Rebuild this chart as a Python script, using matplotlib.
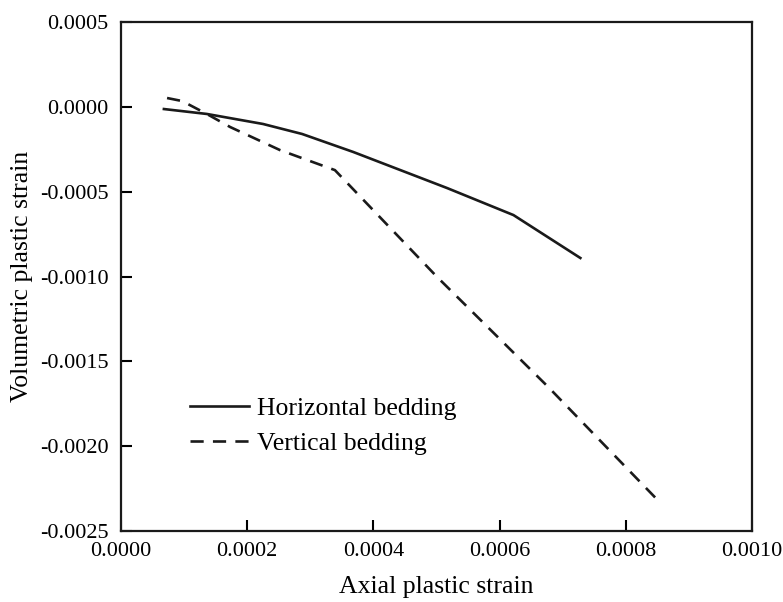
import matplotlib
matplotlib.use('Agg')
import matplotlib.pyplot as plt
from matplotlib.ticker import FormatStrFormatter, MultipleLocator

# values (units: strain)
horiz_x = [0.68e-4, 1.36e-4, 2.25e-4, 2.87e-4, 3.68e-4, 5.17e-4, 6.22e-4, 7.28e-4]
horiz_y = [-0.13e-4, -0.42e-4, -1.01e-4, -1.60e-4, -2.66e-4, -4.79e-4, -6.38e-4, -8.91e-4]

vert_x = [0.73e-4, 0.97e-4, 1.36e-4, 1.73e-4, 2.52e-4, 3.39e-4, 5.01e-4, 6.77e-4, 8.55e-4]
vert_y = [0.52e-4, 0.34e-4, -0.42e-4, -1.19e-4, -2.55e-4, -3.73e-4, -10.03e-4, -16.51e-4, -23.35e-4]

plt.rcParams.update({
    'font.family': 'serif',
    'font.serif': ['Liberation Serif', 'DejaVu Serif'],
    'axes.unicode_minus': False,
})

fig = plt.figure(figsize=(7.83, 6.02), dpi=100)
ax = fig.add_axes([121/783, 1 - 531/602, 631/783, 509/602])

ax.plot(horiz_x, horiz_y, '-', color='#1a1a1a', linewidth=1.9, label='Horizontal bedding')
ax.plot(vert_x, vert_y, color='#1a1a1a', linewidth=1.9, linestyle=(0, (5, 3.5)), label='Vertical bedding')

ax.set_xlim(0, 0.001)
ax.set_ylim(-0.0025, 0.0005)
ax.xaxis.set_major_locator(MultipleLocator(0.0002))
ax.yaxis.set_major_locator(MultipleLocator(0.0005))
ax.xaxis.set_major_formatter(FormatStrFormatter('%.4f'))
ax.yaxis.set_major_formatter(FormatStrFormatter('%.4f'))

ax.tick_params(direction='in', length=8, width=1.5, labelsize=16, top=False, right=False)
ax.tick_params(axis='y', pad=9)
ax.tick_params(axis='x', pad=8)
for spine in ax.spines.values():
    spine.set_linewidth(1.6)
    spine.set_color('#1a1a1a')

ax.set_xlabel('Axial plastic strain', fontsize=18.5, labelpad=11)
ax.set_ylabel('Volumetric plastic strain', fontsize=18.5, labelpad=5)

ax.legend(loc='center left', bbox_to_anchor=((177 - 121) / 631, (531 - 426) / 509),
          frameon=False, fontsize=18.5, handlelength=2.3, handletextpad=0.3,
          borderpad=0, labelspacing=0.45)

plt.savefig('out.png', dpi=100)
